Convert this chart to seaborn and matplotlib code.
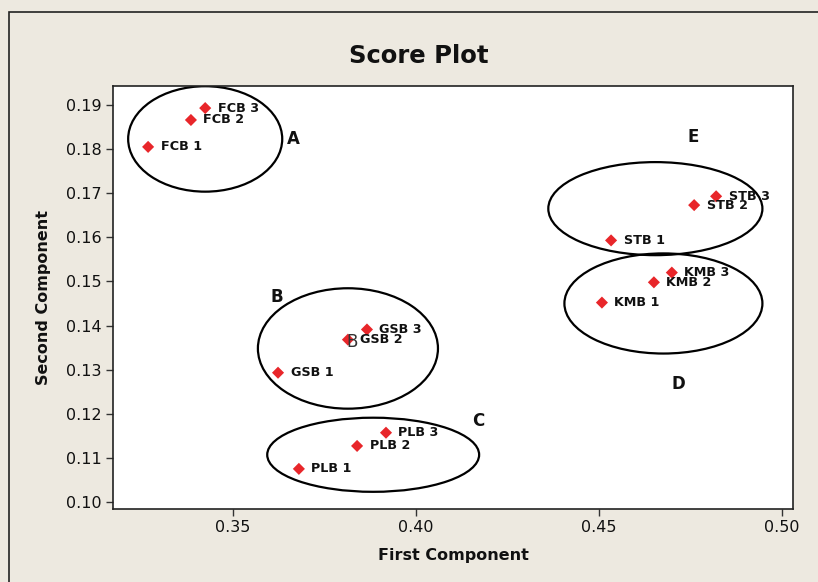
import matplotlib
matplotlib.use("Agg")
import matplotlib.pyplot as plt
from matplotlib.patches import Ellipse, Rectangle
import seaborn as sns
import pandas as pd

# Sample scores on the first two principal components
samples = ["FCB 1", "FCB 2", "FCB 3",
           "GSB 1", "GSB 2", "GSB 3",
           "PLB 1", "PLB 2", "PLB 3",
           "STB 1", "STB 2", "STB 3",
           "KMB 1", "KMB 2", "KMB 3"]
first_component = [0.3268, 0.3385, 0.3424,
                   0.3623, 0.3814, 0.3866,
                   0.3680, 0.3839, 0.3918,
                   0.4533, 0.4760, 0.4820,
                   0.4508, 0.4650, 0.4699]
second_component = [0.1805, 0.1866, 0.1893,
                     0.1293, 0.1368, 0.1391,
                     0.1075, 0.1127, 0.1157,
                     0.1593, 0.1673, 0.1693,
                     0.1452, 0.1498, 0.1520]

# Cluster outlines (centre x, centre y, width, height) and their letters
group_names = ["A", "B", "C", "D", "E"]
group_cx = [0.3424, 0.3814, 0.3883, 0.4676, 0.4654]
group_cy = [0.1823, 0.1348, 0.1107, 0.1450, 0.1665]
group_w = [0.0421, 0.0492, 0.0579, 0.0541, 0.0585]
group_h = [0.0239, 0.0273, 0.0168, 0.0227, 0.0211]
group_label_x = [0.3664, 0.3620, 0.4169, 0.4716, 0.4757]
group_label_y = [0.1823, 0.1464, 0.1184, 0.1268, 0.1827]

x_ticks = [0.35, 0.40, 0.45, 0.50]
y_ticks = [0.10, 0.11, 0.12, 0.13, 0.14, 0.15, 0.16, 0.17, 0.18, 0.19]

df = pd.DataFrame({"sample": samples,
                   "First Component": first_component,
                   "Second Component": second_component})

bg = "#EDE9E0"
sns.set_theme(style="white")
plt.rcParams["font.family"] = ["DejaVu Sans"]

fig = plt.figure(figsize=(8.18, 5.82), dpi=100, facecolor=bg)
ax = fig.add_axes([0.1381, 0.1254, 0.8313, 0.7268])
ax.set_facecolor("white")

# Outer frame of the graph window
fig.patches.append(Rectangle((9 / 818, -0.1), 1.2, 1 - 12 / 582 + 0.1,
                             transform=fig.transFigure, fill=False,
                             edgecolor="#222222", linewidth=1.2, zorder=0))

sns.scatterplot(data=df, x="First Component", y="Second Component",
                marker="D", s=38, color="#E8262A", edgecolor="none",
                ax=ax, zorder=3, legend=False)

for name, x, y in zip(samples, first_component, second_component):
    ax.annotate(name, (x, y), xytext=(9, 0), textcoords="offset points",
                fontsize=9.2, fontweight="bold", va="center", ha="left",
                color="#111111", zorder=4)

for cx, cy, w, h in zip(group_cx, group_cy, group_w, group_h):
    ax.add_patch(Ellipse((cx, cy), w, h, fill=False, edgecolor="black",
                         linewidth=1.6, zorder=2))

for name, lx, ly in zip(group_names, group_label_x, group_label_y):
    ax.text(lx, ly, name, fontsize=12, fontweight="bold", ha="center",
            va="center", color="#111111")

# Stray plain letter left over next to GSB 2
ax.text(0.3826, 0.1362, "B", fontsize=12, ha="center", va="center",
        color="#333333", zorder=5)

ax.set_xlim(0.3172, 0.5030)
ax.set_ylim(0.0984, 0.1943)
ax.set_xticks(x_ticks)
ax.set_xticklabels([f"{t:.2f}" for t in x_ticks])
ax.set_yticks(y_ticks)
ax.set_yticklabels([f"{t:.2f}" for t in y_ticks])
ax.tick_params(axis="both", direction="out", length=5, width=1,
               color="#333333", labelsize=11.5, labelcolor="#111111", pad=3,
               bottom=True, left=True)
for side in ax.spines.values():
    side.set_color("#222222")
    side.set_linewidth(1.2)

ax.set_xlabel("First Component", fontsize=11.5, fontweight="bold",
              color="#111111", labelpad=9)
ax.set_ylabel("Second Component", fontsize=11.5, fontweight="bold",
              color="#111111", labelpad=11)

fig.text(0.512, 0.9038, "Score Plot", fontsize=17.5, fontweight="bold",
         ha="center", va="center", color="#111111")

fig.savefig("out.png", dpi=100, facecolor=bg)
